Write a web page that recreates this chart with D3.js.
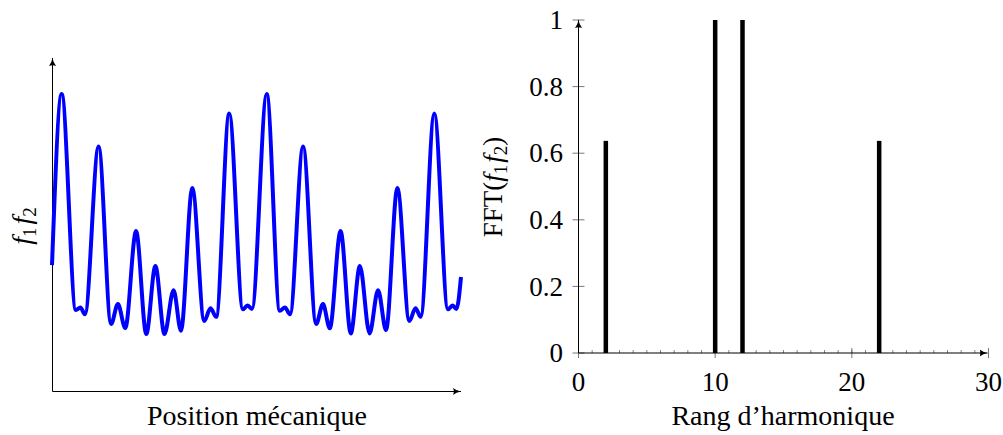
<!DOCTYPE html>
<html><head><meta charset="utf-8">
<script src="https://cdn.jsdelivr.net/npm/d3@7/dist/d3.min.js"></script>
<style>
html,body{margin:0;padding:0;background:#fff;}
text{font-family:"Liberation Serif","Times New Roman",serif;fill:#000;}
</style></head>
<body><svg id="c" width="1003" height="435"></svg>
<script>
// ---- Left chart data: f1*f2 versus mechanical position (degrees) ----
const position = [0,17,42,50,58,82,104,116,129,148,166,182,198,214,227,247,268,279,289,312,336,344,352,
  378,401,410,419,442,465,477,489,508,526,542,559,574,588,608,629,640,649,673,697,705,712,720];
const product = [0.287,1.000,0.100,0.111,0.083,0.781,0.042,0.125,0.025,0.429,0.000,0.284,0.000,0.183,0.014,0.609,0.055,0.108,0.072,0.919,0.103,0.119,0.105,
  1.000,0.097,0.111,0.083,0.781,0.042,0.125,0.024,0.429,0.003,0.284,0.003,0.183,0.017,0.609,0.055,0.108,0.072,0.919,0.103,0.119,0.105,0.238];

// ---- Right chart data: FFT spectrum ----
const harmonics = [2,10,12,22];
const amplitudes = [0.637,1,1,0.637];
const yTickValues = [0,0.2,0.4,0.6,0.8,1];
const yTickLabels = ["0","0.2","0.4","0.6","0.8","1"];
const xTickValues = [0,10,20,30];
const xTickLabels = ["0","10","20","30"];

const svg = d3.select("#c");
const defs = svg.append("defs");
defs.append("marker").attr("id","arr").attr("viewBox","0 0 10 10").attr("refX",10).attr("refY",5)
  .attr("markerWidth",8).attr("markerHeight",8).attr("markerUnits","userSpaceOnUse").attr("orient","auto")
  .append("path").attr("d","M0,0.5 Q4,4 10,5 Q4,6 0,9.5 Q2,5 0,0.5Z").attr("fill","#000");

// ================= LEFT =================
const xL = d3.scaleLinear().domain([0,720]).range([52,461]);
const yL = d3.scaleLinear().domain([-0.237,1.15]).range([391,58]);
const gL = svg.append("g");
gL.append("line").attr("x1",52.5).attr("y1",391.5).attr("x2",461).attr("y2",391.5)
  .attr("stroke","#000").attr("stroke-width",1).attr("marker-end","url(#arr)");
gL.append("line").attr("x1",52.5).attr("y1",391.5).attr("x2",52.5).attr("y2",58)
  .attr("stroke","#000").attr("stroke-width",1).attr("marker-end","url(#arr)");
const line = d3.line().x((d,i)=>xL(position[i])).y((d,i)=>yL(product[i])).curve(d3.curveMonotoneX);
gL.append("path").datum(product).attr("d",line).attr("fill","none").attr("stroke","#0000ff")
  .attr("stroke-width",4).attr("stroke-linejoin","round");
gL.append("text").attr("x",257).attr("y",425).attr("text-anchor","middle").attr("font-size",28)
  .text("Position mécanique");
const lt = gL.append("text").attr("transform","translate(31,226) rotate(-90)").attr("text-anchor","middle").attr("font-size",28);
lt.append("tspan").attr("font-style","italic").text("f");
lt.append("tspan").attr("font-size",19).attr("dy",5).text("1");
lt.append("tspan").attr("font-style","italic").attr("dy",-5).attr("dx",3).text("f");
lt.append("tspan").attr("font-size",19).attr("dy",5).text("2");

// ================= RIGHT =================
const xR = d3.scaleLinear().domain([0,30]).range([578.5,988.5]);
const yR = d3.scaleLinear().domain([0,1]).range([353,20]);
const gR = svg.append("g");
// minor x ticks
gR.selectAll(".mx").data(d3.range(1,30)).enter().append("line")
  .attr("x1",d=>xR(d)).attr("x2",d=>xR(d)).attr("y1",yR(0)-3).attr("y2",yR(0))
  .attr("stroke","#666").attr("stroke-width",0.8);
// major x ticks
gR.selectAll(".Mx").data(xTickValues).enter().append("line")
  .attr("x1",d=>xR(d)).attr("x2",d=>xR(d)).attr("y1",yR(0)-5).attr("y2",yR(0)+5)
  .attr("stroke","#555").attr("stroke-width",0.8);
// major y ticks
gR.selectAll(".My").data(yTickValues).enter().append("line")
  .attr("y1",d=>yR(d)).attr("y2",d=>yR(d)).attr("x1",xR(0)-6).attr("x2",xR(0)+6)
  .attr("stroke","#555").attr("stroke-width",0.8);
// axes
gR.append("line").attr("x1",xR(0)).attr("y1",yR(0)).attr("x2",xR(30)-1).attr("y2",yR(0))
  .attr("stroke","#000").attr("stroke-width",1).attr("marker-end","url(#arr)");
gR.append("line").attr("x1",xR(0)).attr("y1",yR(0)).attr("x2",xR(0)).attr("y2",yR(1))
  .attr("stroke","#000").attr("stroke-width",1).attr("marker-end","url(#arr)");
// bars
gR.selectAll(".bar").data(harmonics).enter().append("rect")
  .attr("x",d=>xR(d)-2.25).attr("width",4.5)
  .attr("y",(d,i)=>yR(amplitudes[i])).attr("height",(d,i)=>yR(0)-yR(amplitudes[i]))
  .attr("fill","#000");
// tick labels
gR.selectAll(".yl").data(yTickValues).enter().append("text")
  .attr("x",563).attr("y",d=>yR(d)).attr("dy","0.34em").attr("text-anchor","end").attr("font-size",27)
  .text((d,i)=>yTickLabels[i]);
gR.selectAll(".xl").data(xTickValues).enter().append("text")
  .attr("x",d=>xR(d)).attr("y",391).attr("text-anchor","middle").attr("font-size",27)
  .text((d,i)=>xTickLabels[i]);
gR.append("text").attr("x",783).attr("y",425).attr("text-anchor","middle").attr("font-size",28)
  .text("Rang d\u2019harmonique");
const rt = gR.append("text").attr("transform","translate(502,187) rotate(-90)").attr("text-anchor","middle").attr("font-size",27);
rt.append("tspan").text("FFT(");
rt.append("tspan").attr("font-style","italic").text("f");
rt.append("tspan").attr("font-size",19).attr("dy",5).text("1");
rt.append("tspan").attr("font-style","italic").attr("dy",-5).attr("dx",2).text("f");
rt.append("tspan").attr("font-size",19).attr("dy",5).text("2");
rt.append("tspan").attr("dy",-5).text(")");
</script></body></html>
